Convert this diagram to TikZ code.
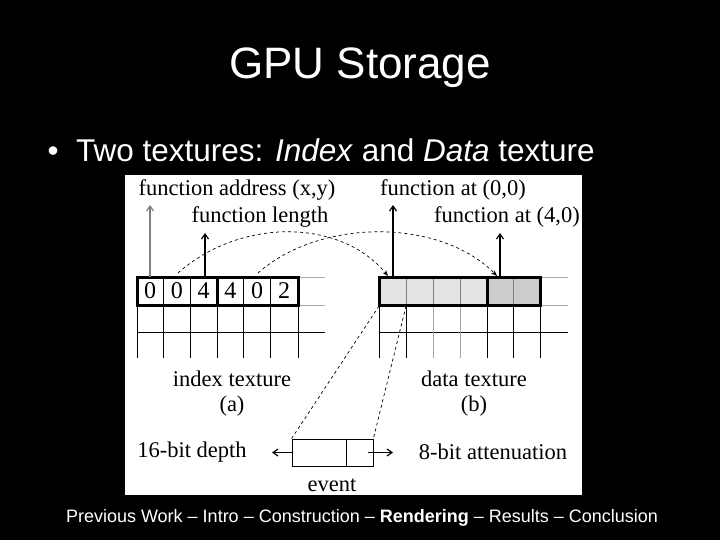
\documentclass[tikz,border=0pt]{standalone}
\usepackage{fontspec}
\setmainfont{Liberation Serif}
\newfontfamily\arial{Liberation Sans}
\usetikzlibrary{arrows.meta}
\begin{document}
\begin{tikzpicture}[x=1pt,y=-1pt,
  lbl/.style={inner sep=0pt,font=\fontsize{22.5}{24}\selectfont},
  arr/.style={-{Straight Barb[length=5pt,width=7pt]},line width=1.2pt},
  dsh/.style={dashed,line width=0.7pt},
  thick3/.style={line width=3pt}]
\fill[black] (0,0) rectangle (720,540);
\useasboundingbox (0,0) rectangle (720,540);
\fill[white] (125,175) rectangle (582,495);
% titles
\node[white,font=\arial\fontsize{44}{48}\selectfont] (title) at (360,68) {GPU Storage};
\node[white,anchor=west,font=\arial\fontsize{31.5}{34}\selectfont] (bul) at (44,150) {\textbullet\ \ Two textures: \textit{Index} and \textit{Data} texture};
\node[white,font=\arial\fontsize{18}{20}\selectfont] (foot) at (362,518) {Previous Work \textendash\ Intro \textendash\ Construction \textendash\ \textbf{Rendering} \textendash\ Results \textendash\ Conclusion};
% index texture grid
\draw[gray!70,line width=0.8pt] (298,277)--(325,277) (298,305)--(325,305);
\draw[line width=1pt] (137,332)--(325,332);
\foreach \x in {137,163,190,217,243,270,298}{\draw[line width=1pt] (\x,305)--(\x,358);}
\draw[line width=1pt] (163,277)--(163,305) (190,277)--(190,305) (243,277)--(243,305) (270,277)--(270,305);
\draw[thick3] (137,277) rectangle (217,305);
\draw[thick3] (217,277) rectangle (298,305);
\foreach \v [count=\i from 0] in {0,0,4,4,0,2}{
  \node[lbl,font=\fontsize{24}{26}\selectfont] (ic\i) at ({150+26.8*\i},291) {\v};}
% data texture grid
\fill[gray!22] (379,277) rectangle (487,305);
\fill[gray!40] (487,277) rectangle (540,305);
\draw[gray!70,line width=0.8pt] (540,277)--(568,277) (540,305)--(568,305);
\draw[line width=1pt] (379,332)--(568,332);
\foreach \x in {433,460}{\draw[gray!70,line width=1pt] (\x,305)--(\x,358);}
\foreach \x in {379,406,487,513,540}{\draw[line width=1pt] (\x,305)--(\x,358);}
\foreach \x in {406,433,460,513}{\draw[gray,line width=0.8pt] (\x,277)--(\x,305);}
\draw[thick3] (379,277) rectangle (487,305);
\draw[thick3] (487,277) rectangle (540,305);
% labels
\node[lbl] (fa) at (237,190) {function address (x,y)};
\node[lbl] (fl) at (260,217) {function length};
\node[lbl] (f0) at (453,190) {function at (0,0)};
\node[lbl] (f4) at (507,217) {function at (4,0)};
\node[lbl] (it) at (232,379) {index texture};
\node[lbl] (ia) at (232,406) {(a)};
\node[lbl] (dt) at (474,379) {data texture};
\node[lbl] (db) at (474,406) {(b)};
\node[lbl] (d16) at (192,452) {16-bit depth};
\node[lbl] (a8) at (493,452) {8-bit attenuation};
\node[lbl] (ev) at (332,485) {event};
% up arrows
\coordinate (pa0) at (150,277); \coordinate (pa1) at (150,205);
\coordinate (pl0) at (205,277); \coordinate (pl1) at (205,233);
\coordinate (p00) at (393,277); \coordinate (p01) at (393,205);
\coordinate (p40) at (500,277); \coordinate (p41) at (500,233);
\draw[arr,gray] (pa0)--(pa1);
\draw[arr] (pl0)--(pl1);
\draw[arr] (p00)--(p01);
\draw[arr] (p40)--(p41);
% dashed curves
\coordinate (c1s) at (178,273); \coordinate (c1e) at (388,276);
\coordinate (c2s) at (258,273); \coordinate (c2e) at (497,276);
\draw[dsh,-{Stealth[length=6pt]}] (c1s) .. controls (240,218) and (340,218) .. (c1e);
\draw[dsh,-{Stealth[length=6pt]}] (c2s) .. controls (320,218) and (440,218) .. (c2e);
% event box
\node[draw,line width=0.8pt,minimum width=81pt,minimum height=27pt,inner sep=0pt] (evbox) at (332.5,452.5) {};
\draw[line width=0.8pt] (346,439)--(346,466);
\draw[dsh] (379,306) -- (evbox.north west);
\draw[dsh] (406,306) -- (evbox.north east);
\draw[arr] (evbox.west) -- (272,452.5);
\draw[arr] (368,452.5) -- (393,452.5);
\end{tikzpicture}
\end{document}
